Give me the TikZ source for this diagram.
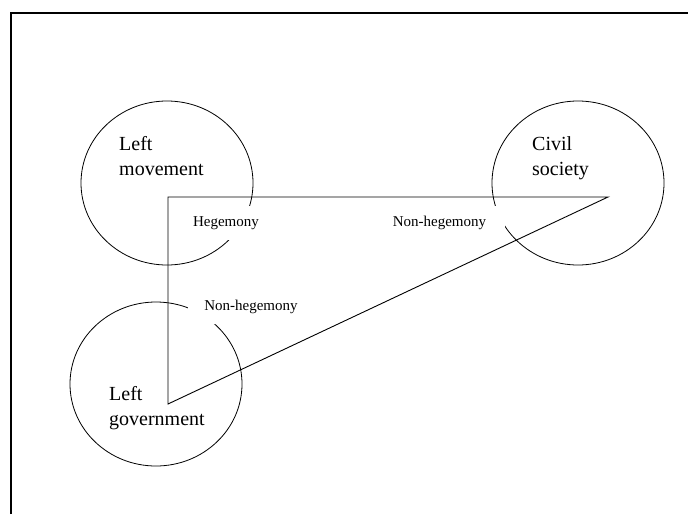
\documentclass[tikz,border=0pt]{standalone}
\usepackage{fontspec}
\setmainfont{Liberation Serif}
\usetikzlibrary{shapes.geometric}
\tikzset{
  ring/.style={draw, ellipse, line width=0.8pt, minimum width=172pt, minimum height=164pt, inner sep=0pt},
  tag/.style={anchor=base west, align=left, inner sep=0pt, font=\fontsize{20}{25}\selectfont},
  mask/.style={fill=white, inner sep=0pt, minimum height=34pt, minimum width=#1, font=\fontsize{15}{18}\selectfont},
  side/.style={draw, line width=0.9pt},
}
\begin{document}
\begin{tikzpicture}[x=1pt, y=-1pt]
  \useasboundingbox (0,0) rectangle (688,514);
  \draw[line width=1.8pt] (11,514) -- (11,13) -- (688,13);
  \node[ring] (mov) at (167,183) {};
  \node[ring] (civ) at (578,183) {};
  \node[ring] (gov) at (156,384) {};
  \node[tag] (movtxt) at (119,175) {Left\\movement};
  \node[tag] (civtxt) at (532,175) {Civil\\society};
  \node[tag] (govtxt) at (109,425) {Left\\government};
  \node[mask=80pt] (heg) at (226,223) {Hegemony};
  \node[mask=131pt] (nhciv) at (439.5,222.5) {Non-hegemony};
  \node[mask=126pt] (nhgov) at (251,306.5) {Non-hegemony};
  \coordinate (tl) at (168,197);
  \coordinate (tr) at (608,197);
  \coordinate (bl) at (168,404);
  \draw[side] (tl) -- (tr) -- (bl) -- cycle;
\end{tikzpicture}
\end{document}
